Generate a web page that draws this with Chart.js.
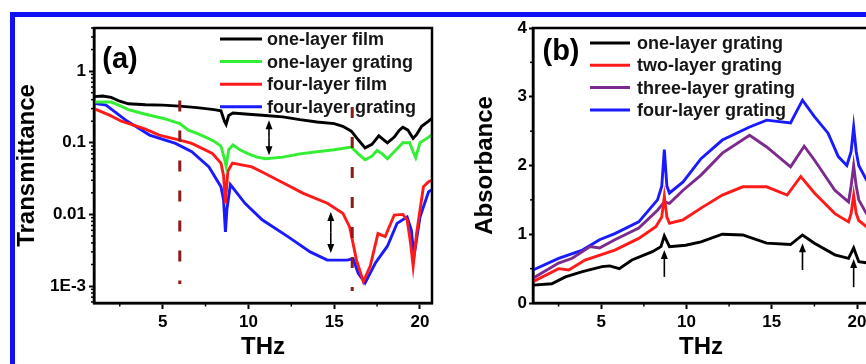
<!DOCTYPE html>
<html>
<head>
<meta charset="utf-8">
<script src="https://cdn.jsdelivr.net/npm/chart.js@4.4.0/dist/chart.umd.min.js"></script>
<style>
html, body { margin: 0; padding: 0; background: #fff; overflow: hidden; width: 866px; height: 364px; }
#frame { position: absolute; left: 10px; top: 12px; width: 900px; height: 400px;
  border-left: 5px solid #1010f5; border-top: 5px solid #1010f5; }
#chartA { position: absolute; left: 0; top: 0; }
#chartB { position: absolute; left: 440px; top: 0; }
</style>
</head>
<body>
<div id="frame"></div>
<canvas id="chartA" width="440" height="364"></canvas>
<canvas id="chartB" width="440" height="364"></canvas>
<script>
// PANEL (a) : TRANSMITTANCE (LOG SCALE)
const labelsA = ['one-layer film', 'one-layer grating', 'four-layer film', 'four-layer grating'];
const colorsA = ['#000000', '#33ee33', '#ff1a1a', '#1a1aff'];

const filmOneX = [1, 1.5, 2, 2.5, 3, 4, 5, 6, 7, 8, 8.4, 8.6, 8.7, 8.85, 9.1, 10, 11, 12, 13, 14, 15, 15.5, 16, 16.4, 16.8, 17.2, 17.6, 18.1, 18.5, 18.8, 19.0, 19.3, 19.6, 19.8, 20.1, 20.5, 20.7];
const filmOneT = [0.44, 0.45, 0.43, 0.38, 0.35, 0.34, 0.335, 0.325, 0.31, 0.29, 0.28, 0.2, 0.18, 0.24, 0.26, 0.25, 0.24, 0.23, 0.21, 0.195, 0.185, 0.17, 0.145, 0.11, 0.085, 0.095, 0.125, 0.1, 0.12, 0.15, 0.165, 0.15, 0.115, 0.13, 0.17, 0.2, 0.22];

const gratingOneX = [1, 2, 2.5, 3, 4, 5, 6, 6.5, 7, 7.5, 8, 8.4, 8.6, 8.7, 8.85, 9.1, 9.5, 10, 10.5, 11, 12, 13, 14, 15, 16, 16.4, 16.8, 17.2, 17.5, 17.8, 18.1, 18.5, 19, 19.4, 19.6, 19.75, 20, 20.4, 20.7];
const gratingOneT = [0.37, 0.37, 0.33, 0.29, 0.25, 0.22, 0.185, 0.15, 0.135, 0.12, 0.105, 0.09, 0.06, 0.047, 0.08, 0.093, 0.08, 0.07, 0.063, 0.06, 0.063, 0.07, 0.075, 0.08, 0.087, 0.07, 0.058, 0.065, 0.078, 0.07, 0.06, 0.075, 0.1, 0.1, 0.075, 0.062, 0.1, 0.115, 0.13];

const filmFourX = [1, 1.9, 2.6, 3.3, 4, 4.8, 6, 6.7, 7.9, 8.4, 8.55, 8.66, 8.8, 9.07, 10.2, 10.8, 11.9, 13.2, 14.6, 15.5, 15.9, 16.3, 16.7, 17.1, 17.55, 17.97, 18.5, 19, 19.25, 19.45, 19.6, 19.8, 20.2, 20.5, 20.7];
const filmFourT = [0.30, 0.243, 0.2, 0.177, 0.155, 0.128, 0.109, 0.098, 0.071, 0.052, 0.035, 0.0143, 0.04, 0.052, 0.046, 0.039, 0.0286, 0.0197, 0.0143, 0.0104, 0.0067, 0.0023, 0.00115, 0.0019, 0.0054, 0.0049, 0.0098, 0.010, 0.0084, 0.004, 0.0019, 0.0054, 0.0243, 0.0286, 0.03];

const gratingFourX = [1, 1.7, 2.85, 4.24, 5.75, 6.7, 7.7, 8.4, 8.55, 8.66, 8.75, 8.95, 9.8, 10.8, 12.3, 13.6, 14.6, 15.75, 16.1, 16.4, 16.8, 17.4, 18.1, 18.66, 19.25, 19.5, 19.65, 20, 20.5, 20.7];
const gratingFourT = [0.355, 0.336, 0.207, 0.128, 0.098, 0.075, 0.046, 0.0243, 0.016, 0.0057, 0.012, 0.026, 0.0143, 0.0084, 0.0049, 0.003, 0.0023, 0.0023, 0.0024, 0.0015, 0.0011, 0.0021, 0.0036, 0.0075, 0.0092, 0.006, 0.0026, 0.0092, 0.0207, 0.022];

const freqTicks = [5, 10, 15, 20];
const freqMinor = [2.5, 7.5, 12.5, 17.5];
const transTicks = [1e-3, 1e-2, 1e-1, 1];
const transTickLabels = ['1E-3', '0.01', '0.1', '1'];
const transMinor = [6e-4, 7e-4, 8e-4, 9e-4, 2e-3, 3e-3, 4e-3, 5e-3, 6e-3, 7e-3, 8e-3, 9e-3,
  0.02, 0.03, 0.04, 0.05, 0.06, 0.07, 0.08, 0.09, 0.2, 0.3, 0.4, 0.5, 0.6, 0.7, 0.8, 0.9, 2, 3, 4];

// DASHED MARKERS AND DOUBLE ARROWS IN (a)
const dashX = [6, 16.05];
const dashTop = [0.39, 0.315];
const dashBottom = [0.00107, 0.00085];
const gapArrowX = [11.2, 14.8];
const gapArrowTop = [0.207, 0.0108];
const gapArrowBottom = [0.067, 0.0029];

// PANEL (b) : ABSORBANCE
const labelsB = ['one-layer grating', 'two-layer grating', 'three-layer grating', 'four-layer grating'];
const colorsB = ['#000000', '#ff1a1a', '#7d2a8f', '#1a1aff'];

const absOneX = [1, 2.1, 2.9, 3.9, 5.05, 5.5, 6.06, 6.8, 8, 8.5, 8.7, 9, 9.95, 10.85, 12.1, 13.3, 14.7, 16.1, 16.8, 17.5, 18.7, 19.5, 19.8, 20.1, 20.55, 20.7];
const absOne = [0.26, 0.28, 0.38, 0.455, 0.53, 0.54, 0.50, 0.625, 0.746, 0.82, 0.975, 0.82, 0.84, 0.89, 1.0, 0.99, 0.87, 0.85, 0.99, 0.87, 0.70, 0.65, 0.80, 0.6, 0.586, 0.57];

const absTwoX = [1, 2.5, 3.1, 4.05, 5.8, 7.2, 8.2, 8.55, 8.7, 8.85, 9, 9.8, 10.85, 12.1, 13.3, 14.7, 15.9, 16.7, 17.5, 18.7, 19.5, 19.65, 19.8, 19.95, 20.1, 20.55, 20.7];
const absTwo = [0.31, 0.50, 0.48, 0.625, 0.77, 0.94, 1.11, 1.25, 1.55, 1.25, 1.16, 1.21, 1.38, 1.57, 1.69, 1.69, 1.57, 1.84, 1.60, 1.30, 1.18, 1.3, 1.57, 1.3, 1.2, 1.11, 1.08];

const absThreeX = [1, 2.5, 3.3, 4.35, 4.9, 5.8, 7.2, 8.3, 8.7, 9, 9.8, 10.85, 12.1, 13.7, 14.7, 16.1, 16.9, 17.5, 18.7, 19.5, 19.65, 19.8, 19.95, 20.1, 20.55, 20.7];
const absThree = [0.36, 0.58, 0.65, 0.82, 0.80, 0.92, 1.09, 1.35, 1.47, 1.45, 1.64, 1.86, 2.18, 2.44, 2.27, 1.98, 2.28, 2.08, 1.64, 1.47, 1.7, 2.0, 1.7, 1.5, 1.30, 1.27];

const absFourX = [1, 2.5, 3.9, 4.9, 5.8, 7.2, 8.3, 8.55, 8.7, 8.85, 9, 9.8, 10.85, 12.1, 13.7, 14.7, 16.1, 16.8, 17.5, 18.3, 18.9, 19.4, 19.65, 19.8, 19.95, 20.1, 20.55, 20.7];
const absFour = [0.48, 0.65, 0.77, 0.92, 1.01, 1.18, 1.50, 1.7, 2.23, 1.7, 1.60, 1.76, 2.10, 2.37, 2.56, 2.66, 2.62, 2.95, 2.71, 2.47, 2.13, 2.0, 2.2, 2.56, 2.2, 2.0, 1.79, 1.75];

const absTicks = [0, 1, 2, 3, 4];
const absMinor = [0.5, 1.5, 2.5, 3.5];

// SINGLE ARROWS UNDER THE PEAKS IN (b)
const peakArrowX = [8.7, 16.8, 19.8];
const peakArrowBase = [0.38, 0.48, 0.23];
const peakArrowTip = [0.77, 0.87, 0.64];

const FONT = 'Liberation Sans, Arial, sans-serif';
const tickFont = { family: FONT, weight: 'bold', size: 17 };
const titleFont = { family: FONT, weight: 'bold', size: 24 };

function zip(xs, ys) {
  return xs.map((x, i) => ({ x: x, y: ys[i] }));
}

function makeSets(labels, colors, xs, ys) {
  return labels.map((label, i) => ({
    label: label,
    data: zip(xs[i], ys[i]),
    borderColor: colors[i],
    backgroundColor: colors[i],
    borderWidth: 2.9,
    pointRadius: 0,
    tension: 0,
    fill: false
  }));
}

function drawArrow(ctx, x, yFrom, yTip, head) {
  const dir = yTip > yFrom ? 1 : -1;
  ctx.beginPath();
  ctx.moveTo(x, yFrom);
  ctx.lineTo(x, yTip - dir * head * 0.7);
  ctx.stroke();
  ctx.beginPath();
  ctx.moveTo(x, yTip);
  ctx.lineTo(x - 3.5, yTip - dir * head);
  ctx.lineTo(x + 3.5, yTip - dir * head);
  ctx.closePath();
  ctx.fill();
}

// BOX, MINOR TICKS, LEGEND AND PANEL TAG
const decorPlugin = {
  id: 'decor',
  afterDraw(chart, args, opts) {
    const { ctx, chartArea: a, scales } = chart;
    ctx.save();
    ctx.strokeStyle = '#000';
    ctx.lineWidth = 2.5;
    ctx.strokeRect(a.left, a.top, a.right - a.left, a.bottom - a.top);

    ctx.lineWidth = 1.5;
    opts.xMinor.forEach(v => {
      const px = scales.x.getPixelForValue(v);
      ctx.beginPath(); ctx.moveTo(px, a.bottom); ctx.lineTo(px, a.bottom + 3.5); ctx.stroke();
    });
    opts.yMinor.forEach(v => {
      const py = scales.y.getPixelForValue(v);
      if (py < a.top || py > a.bottom) return;
      ctx.beginPath(); ctx.moveTo(a.left, py); ctx.lineTo(a.left - 3, py); ctx.stroke();
    });

    // LEGEND
    const lg = opts.legend;
    ctx.font = 'bold 18px ' + FONT;
    ctx.textBaseline = 'middle';
    ctx.textAlign = 'left';
    chart.data.datasets.forEach((ds, i) => {
      const y = lg.y + i * lg.row;
      ctx.strokeStyle = ds.borderColor;
      ctx.lineWidth = 3;
      ctx.beginPath(); ctx.moveTo(lg.x, y); ctx.lineTo(lg.x + lg.len, y); ctx.stroke();
      ctx.fillStyle = '#151515';
      ctx.fillText(ds.label, lg.x + lg.len + lg.gap, y + 1);
    });

    // PANEL TAG
    ctx.font = 'bold 29px ' + FONT;
    ctx.textAlign = 'center';
    ctx.fillStyle = '#000';
    ctx.fillText(opts.tag.text, opts.tag.x, opts.tag.y);
    ctx.restore();
  }
};

const marksA = {
  id: 'marksA',
  afterDatasetsDraw(chart) {
    const { ctx, scales } = chart;
    ctx.save();
    ctx.strokeStyle = '#8b1a1a';
    ctx.lineWidth = 3;
    ctx.setLineDash([11, 19]);
    dashX.forEach((v, i) => {
      const px = scales.x.getPixelForValue(v);
      ctx.beginPath();
      ctx.moveTo(px, scales.y.getPixelForValue(dashTop[i]));
      ctx.lineTo(px, scales.y.getPixelForValue(dashBottom[i]));
      ctx.stroke();
    });
    ctx.setLineDash([]);
    ctx.strokeStyle = '#000';
    ctx.fillStyle = '#000';
    ctx.lineWidth = 1.6;
    gapArrowX.forEach((v, i) => {
      const px = scales.x.getPixelForValue(v);
      const yT = scales.y.getPixelForValue(gapArrowTop[i]);
      const yB = scales.y.getPixelForValue(gapArrowBottom[i]);
      const mid = (yT + yB) / 2;
      drawArrow(ctx, px, mid, yT, 9);
      drawArrow(ctx, px, mid, yB, 9);
    });
    ctx.restore();
  }
};

const marksB = {
  id: 'marksB',
  afterDatasetsDraw(chart) {
    const { ctx, scales } = chart;
    ctx.save();
    ctx.strokeStyle = '#000';
    ctx.fillStyle = '#000';
    ctx.lineWidth = 1.6;
    peakArrowX.forEach((v, i) => {
      const px = scales.x.getPixelForValue(v);
      drawArrow(ctx, px, scales.y.getPixelForValue(peakArrowBase[i]), scales.y.getPixelForValue(peakArrowTip[i]), 9);
    });
    ctx.restore();
  }
};

function xScale() {
  return {
    type: 'linear', min: 1, max: 20.7,
    afterBuildTicks: s => { s.ticks = freqTicks.map(v => ({ value: v })); },
    afterFit: s => { s.height = 61; },
    ticks: { font: tickFont, color: '#000', padding: 3, maxRotation: 0, callback: v => String(v) },
    grid: { display: true, drawOnChartArea: false, drawTicks: true, tickLength: 6, tickWidth: 2, tickColor: '#000' },
    border: { display: true, color: '#000', width: 2.5 },
    title: { display: true, text: 'THz', font: titleFont, color: '#000', padding: { top: 0, bottom: 2 } }
  };
}

// CHART (a)
new Chart(document.getElementById('chartA'), {
  type: 'line',
  data: {
    datasets: makeSets(labelsA, colorsA,
      [filmOneX, gratingOneX, filmFourX, gratingFourX],
      [filmOneT, gratingOneT, filmFourT, gratingFourT])
  },
  options: {
    responsive: false,
    animation: false,
    layout: { padding: { top: 28, right: 8, left: 0, bottom: 0 } },
    plugins: {
      legend: { display: false },
      tooltip: { enabled: false },
      decor: {
        xMinor: freqMinor, yMinor: transMinor,
        legend: { x: 220, y: 39, len: 42, gap: 5, row: 22.6 },
        tag: { text: '(a)', x: 120, y: 60 }
      }
    },
    scales: {
      x: xScale(),
      y: {
        type: 'logarithmic', min: 5.8e-4, max: 4,
        afterBuildTicks: s => { s.ticks = transTicks.map(v => ({ value: v })); },
        afterFit: s => { s.width = 94; },
        ticks: { font: tickFont, color: '#000', padding: 3, callback: (v, i) => transTickLabels[i] },
        grid: { display: true, drawOnChartArea: false, drawTicks: true, tickLength: 5, tickWidth: 2, tickColor: '#000' },
        border: { display: true, color: '#000', width: 2.5 },
        title: { display: true, text: 'Transmittance', font: titleFont, color: '#000', padding: { top: 13, bottom: 0 } }
      }
    }
  },
  plugins: [marksA, decorPlugin]
});

// CHART (b)
new Chart(document.getElementById('chartB'), {
  type: 'line',
  data: {
    datasets: makeSets(labelsB, colorsB,
      [absOneX, absTwoX, absThreeX, absFourX],
      [absOne, absTwo, absThree, absFour])
  },
  options: {
    responsive: false,
    animation: false,
    layout: { padding: { top: 28, right: 11, left: 0, bottom: 0 } },
    plugins: {
      legend: { display: false },
      tooltip: { enabled: false },
      decor: {
        xMinor: freqMinor, yMinor: absMinor,
        legend: { x: 150, y: 43, len: 40, gap: 7, row: 22.3 },
        tag: { text: '(b)', x: 121, y: 52 }
      }
    },
    scales: {
      x: xScale(),
      y: {
        type: 'linear', min: 0, max: 4,
        afterBuildTicks: s => { s.ticks = absTicks.map(v => ({ value: v })); },
        afterFit: s => { s.width = 93; },
        ticks: { font: tickFont, color: '#000', padding: 2, callback: v => String(v) },
        grid: { display: true, drawOnChartArea: false, drawTicks: true, tickLength: 4, tickWidth: 2, tickColor: '#000' },
        border: { display: true, color: '#000', width: 2.5 },
        title: { display: true, text: 'Absorbance', font: titleFont, color: '#000', padding: { top: 31, bottom: 0 } }
      }
    }
  },
  plugins: [marksB, decorPlugin]
});
</script>
</body>
</html>
